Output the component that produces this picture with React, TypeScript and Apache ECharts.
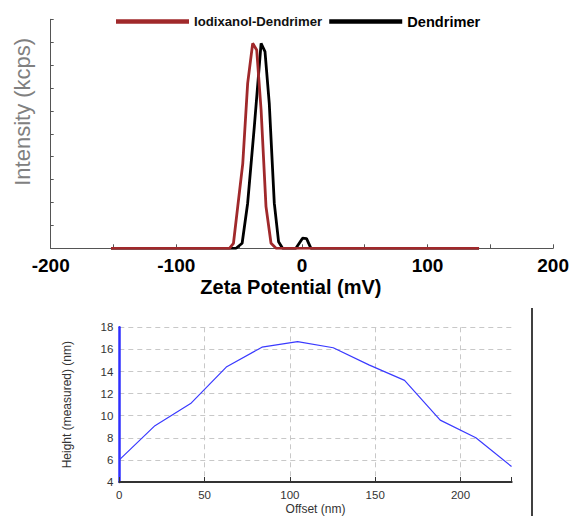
import React, { useEffect, useRef } from 'react';
import * as echarts from 'echarts';

// Top chart: zeta potential distributions (mV, intensity in tick units 0..10)
const iodixanolX = [-152, -57.7, -54.5, -51.1, -47.1, -43.2, -39.2, -36.0, -32.5, -28.6, -24.6, -20.6, 141];
const iodixanolY = [0, 0, 0.22, 1.82, 3.7, 7.2, 8.95, 8.66, 6.04, 1.82, 0.22, 0, 0];
const dendrimerX = [-152, -52.4, -47.6, -43.2, -37.9, -32.5, -29.4, -26, -22, -18.6, -15.4, -4.8, 0.5, 3.7, 7.2, 141];
const dendrimerY = [0, 0, 0.22, 1.97, 5.31, 8.95, 8.59, 6.33, 1.97, 0.29, 0, 0, 0.44, 0.42, 0, 0];
const zetaLabels = [-200, -100, 0, 100, 200];

// Bottom chart: height profile
const offsetNm = [0, 20.9, 41.8, 62.7, 83.6, 104.5, 125.4, 146.3, 167.2, 188.1, 209, 229.9];
const heightNm = [6.0, 9.1, 11.1, 14.4, 16.2, 16.7, 16.15, 14.6, 13.2, 9.6, 8.0, 5.4];
const offsetLabels = [0, 50, 100, 150, 200];

const zip = (xs: number[], ys: number[]) => xs.map((x, i) => [x, ys[i]]);

export default function App() {
  const ref = useRef<HTMLDivElement>(null);
  useEffect(() => {
    if (!ref.current) return;
    const chart = echarts.init(ref.current, undefined, { renderer: 'svg' });
    const font = 'Arial, "Liberation Sans", sans-serif';
    chart.setOption({
      animation: false,
      backgroundColor: '#fff',
      legend: {
        left: 111,
        top: 9,
        icon: 'rect',
        itemWidth: 73,
        itemHeight: 4.5,
        itemGap: 7,
        textStyle: { fontFamily: font, color: '#000' },
        data: [
          { name: 'Iodixanol-Dendrimer', textStyle: { fontSize: 13.2, fontWeight: 'bold', color: '#111' } },
          { name: 'Dendrimer', textStyle: { fontSize: 14.6, fontWeight: 'bold', color: '#000' } },
        ],
      },
      grid: [
        { left: 50.7, top: 19.3, width: 504, height: 229 },
        { left: 119.3, top: 327.3, width: 392.4, height: 154.7 },
      ],
      xAxis: [
        {
          gridIndex: 0,
          type: 'value',
          min: -200,
          max: 200,
          interval: 50,
          name: 'Zeta Potential (mV)',
          nameLocation: 'middle',
          nameGap: 29,
          nameTextStyle: { fontFamily: font, fontSize: 20, fontWeight: 'bold', color: '#000', padding: [0, 22, 0, 0] },
          axisLine: { onZero: false, lineStyle: { color: '#555', width: 1 } },
          axisTick: { inside: true, length: 4, lineStyle: { color: '#555' } },
          axisLabel: {
            formatter: (v: number) => (zetaLabels.includes(v) ? String(v) : ''),
            fontFamily: font,
            fontSize: 19,
            fontWeight: 'bold',
            color: '#000',
            margin: 8,
          },
          splitLine: { show: false },
        },
        {
          gridIndex: 1,
          type: 'value',
          min: 0,
          max: 230,
          interval: 50,
          name: 'Offset (nm)',
          nameLocation: 'middle',
          nameGap: 21,
          nameTextStyle: { fontFamily: font, fontSize: 12, color: '#333' },
          axisLine: { onZero: false, lineStyle: { color: '#333', width: 2 } },
          axisTick: { inside: true, length: 5, lineStyle: { color: '#333' } },
          axisLabel: {
            formatter: (v: number) => (offsetLabels.includes(v) ? String(v) : ''),
            fontFamily: font,
            fontSize: 11.5,
            color: '#333',
            margin: 7,
          },
          splitLine: { show: true, showMaxLine: false, lineStyle: { color: '#c8c8c8', type: [5, 4], width: 1 } },
        },
      ],
      yAxis: [
        {
          gridIndex: 0,
          type: 'value',
          min: 0,
          max: 10,
          interval: 1,
          name: 'Intensity (kcps)',
          nameLocation: 'middle',
          nameGap: 17,
          nameTextStyle: { fontFamily: font, fontSize: 22, color: '#808080', padding: [0, 0, 0, 44] },
          axisLine: { show: true, onZero: false, lineStyle: { color: '#555', width: 1 } },
          axisTick: { show: true, inside: true, length: 3, lineStyle: { color: '#555' } },
          axisLabel: { show: false },
          splitLine: { show: false },
        },
        {
          gridIndex: 1,
          type: 'value',
          min: 4,
          max: 18,
          interval: 2,
          name: 'Height (measured) (nm)',
          nameLocation: 'middle',
          nameGap: 46,
          nameTextStyle: { fontFamily: font, fontSize: 12, color: '#333' },
          axisLine: { show: true, onZero: false, lineStyle: { color: '#2f2fff', width: 2.5 } },
          axisTick: { show: false },
          axisLabel: { fontFamily: font, fontSize: 11.5, color: '#333', margin: 6 },
          splitLine: { show: true, lineStyle: { color: '#c8c8c8', type: [5, 4], width: 1 } },
        },
      ],
      series: [
        {
          type: 'line',
          name: 'Dendrimer',
          xAxisIndex: 0,
          yAxisIndex: 0,
          data: zip(dendrimerX, dendrimerY),
          symbol: 'none',
          color: '#000',
          lineStyle: { color: '#000', width: 2.8 },
        },
        {
          type: 'line',
          name: 'Iodixanol-Dendrimer',
          xAxisIndex: 0,
          yAxisIndex: 0,
          data: zip(iodixanolX, iodixanolY),
          symbol: 'none',
          color: '#A0292B',
          lineStyle: { color: '#A0292B', width: 2.8 },
        },
        {
          type: 'line',
          name: 'Height',
          xAxisIndex: 1,
          yAxisIndex: 1,
          data: zip(offsetNm, heightNm),
          symbol: 'none',
          color: '#3a3aff',
          lineStyle: { color: '#3a3aff', width: 1.2 },
        },
      ],
      graphic: [
        {
          type: 'line',
          shape: { x1: 532, y1: 308, x2: 532, y2: 516 },
          style: { stroke: '#000', lineWidth: 1.5 },
        },
      ],
    });
    return () => chart.dispose();
  }, []);
  return <div ref={ref} style={{ position: 'absolute', left: 0, top: 0, width: 572, height: 516 }} />;
}
